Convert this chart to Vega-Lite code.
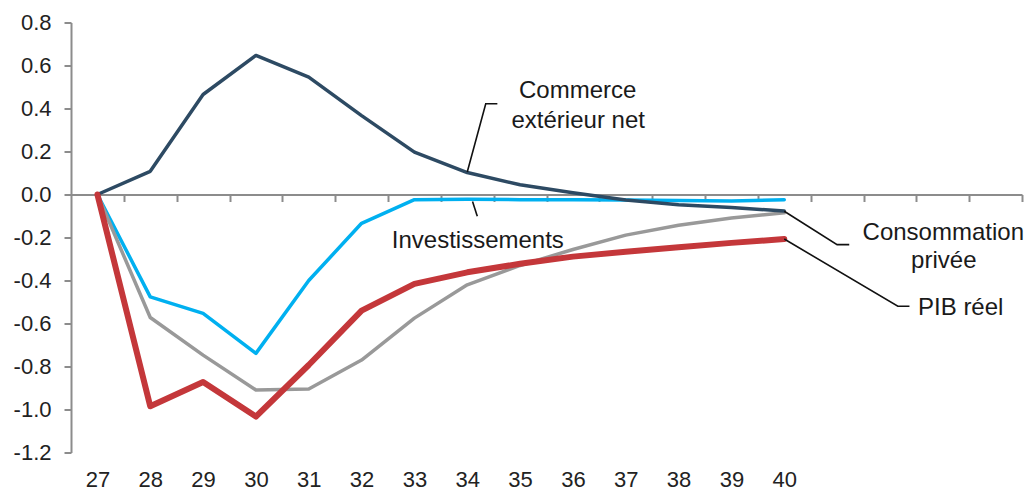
{
  "$schema": "https://vega.github.io/schema/vega-lite/v6.json",
  "width": 951,
  "height": 430,
  "autosize": "none",
  "padding": {"left": 71, "top": 22.5, "right": 10, "bottom": 41.5},
  "background": "white",
  "config": {"view": {"stroke": null}, "font": "Liberation Sans"},
  "datasets": {
    "series": [
      {"series": "Investissements", "x": 27, "y": 0},
      {"series": "Investissements", "x": 28, "y": -0.476},
      {"series": "Investissements", "x": 29, "y": -0.553},
      {"series": "Investissements", "x": 30, "y": -0.739},
      {"series": "Investissements", "x": 31, "y": -0.4},
      {"series": "Investissements", "x": 32, "y": -0.134},
      {"series": "Investissements", "x": 33, "y": -0.024},
      {"series": "Investissements", "x": 34, "y": -0.022},
      {"series": "Investissements", "x": 35, "y": -0.024},
      {"series": "Investissements", "x": 36, "y": -0.024},
      {"series": "Investissements", "x": 37, "y": -0.026},
      {"series": "Investissements", "x": 38, "y": -0.028},
      {"series": "Investissements", "x": 39, "y": -0.03},
      {"series": "Investissements", "x": 40, "y": -0.024},
      {"series": "Consommation privée", "x": 27, "y": 0},
      {"series": "Consommation privée", "x": 28, "y": -0.572},
      {"series": "Consommation privée", "x": 29, "y": -0.747},
      {"series": "Consommation privée", "x": 30, "y": -0.909},
      {"series": "Consommation privée", "x": 31, "y": -0.905},
      {"series": "Consommation privée", "x": 32, "y": -0.77},
      {"series": "Consommation privée", "x": 33, "y": -0.575},
      {"series": "Consommation privée", "x": 34, "y": -0.42},
      {"series": "Consommation privée", "x": 35, "y": -0.33},
      {"series": "Consommation privée", "x": 36, "y": -0.256},
      {"series": "Consommation privée", "x": 37, "y": -0.189},
      {"series": "Consommation privée", "x": 38, "y": -0.143},
      {"series": "Consommation privée", "x": 39, "y": -0.109},
      {"series": "Consommation privée", "x": 40, "y": -0.085},
      {"series": "PIB réel", "x": 27, "y": 0},
      {"series": "PIB réel", "x": 28, "y": -0.985},
      {"series": "PIB réel", "x": 29, "y": -0.872},
      {"series": "PIB réel", "x": 30, "y": -1.033},
      {"series": "PIB réel", "x": 31, "y": -0.793},
      {"series": "PIB réel", "x": 32, "y": -0.54},
      {"series": "PIB réel", "x": 33, "y": -0.416},
      {"series": "PIB réel", "x": 34, "y": -0.362},
      {"series": "PIB réel", "x": 35, "y": -0.322},
      {"series": "PIB réel", "x": 36, "y": -0.289},
      {"series": "PIB réel", "x": 37, "y": -0.266},
      {"series": "PIB réel", "x": 38, "y": -0.245},
      {"series": "PIB réel", "x": 39, "y": -0.225},
      {"series": "PIB réel", "x": 40, "y": -0.207},
      {"series": "Commerce extérieur net", "x": 27, "y": 0},
      {"series": "Commerce extérieur net", "x": 28, "y": 0.108},
      {"series": "Commerce extérieur net", "x": 29, "y": 0.465},
      {"series": "Commerce extérieur net", "x": 30, "y": 0.647},
      {"series": "Commerce extérieur net", "x": 31, "y": 0.546},
      {"series": "Commerce extérieur net", "x": 32, "y": 0.367},
      {"series": "Commerce extérieur net", "x": 33, "y": 0.197},
      {"series": "Commerce extérieur net", "x": 34, "y": 0.102},
      {"series": "Commerce extérieur net", "x": 35, "y": 0.045},
      {"series": "Commerce extérieur net", "x": 36, "y": 0.008},
      {"series": "Commerce extérieur net", "x": 37, "y": -0.026},
      {"series": "Commerce extérieur net", "x": 38, "y": -0.048},
      {"series": "Commerce extérieur net", "x": 39, "y": -0.06},
      {"series": "Commerce extérieur net", "x": 40, "y": -0.077}
    ],
    "leaders": [
      {"id": "c", "o": 1, "x": 34.0, "y": 0.105},
      {"id": "c", "o": 2, "x": 34.35, "y": 0.422},
      {"id": "c", "o": 3, "x": 34.57, "y": 0.422},
      {"id": "i", "o": 1, "x": 34.1, "y": -0.033},
      {"id": "i", "o": 2, "x": 34.19, "y": -0.101},
      {"id": "p", "o": 1, "x": 40.0, "y": -0.078},
      {"id": "p", "o": 2, "x": 41.0, "y": -0.233},
      {"id": "p", "o": 3, "x": 41.23, "y": -0.233},
      {"id": "g", "o": 1, "x": 40.0, "y": -0.207},
      {"id": "g", "o": 2, "x": 42.15, "y": -0.52},
      {"id": "g", "o": 3, "x": 42.37, "y": -0.52}
    ],
    "labels": [
      {"label": "Commerce", "x": 36.09, "y": 0.45},
      {"label": "extérieur net", "x": 36.1, "y": 0.308},
      {"label": "Investissements", "x": 34.2, "y": -0.249},
      {"label": "Consommation", "x": 43.01, "y": -0.212},
      {"label": "privée", "x": 43.02, "y": -0.343},
      {"label": "PIB réel", "x": 43.34, "y": -0.56}
    ]
  },
  "resolve": {"axis": {"x": "independent"}},
  "layer": [
    {
      "data": {"name": "series"},
      "transform": [{"filter": "datum.series !== 'PIB réel'"}],
      "mark": {"type": "line", "strokeJoin": "round", "strokeCap": "round", "strokeWidth": 3.5},
      "encoding": {
        "x": {
          "field": "x", "type": "quantitative",
          "scale": {"domain": [26.5, 44.5], "nice": false, "zero": false},
          "axis": {
            "values": [27, 28, 29, 30, 31, 32, 33, 34, 35, 36, 37, 38, 39, 40],
            "format": "d", "domain": false, "ticks": false, "grid": false,
            "labelFontSize": 22, "labelPadding": 17, "labelColor": "#222222",
            "labelFlush": false, "title": null
          }
        },
        "y": {
          "field": "y", "type": "quantitative",
          "scale": {"domain": [-1.2, 0.8], "nice": false, "zero": false},
          "axis": {
            "values": [-1.2, -1, -0.8, -0.6, -0.4, -0.2, 0, 0.2, 0.4, 0.6, 0.8],
            "labelExpr": "replace(format(datum.value, '.1f'), '\u2212', '-')",
            "domainColor": "#8c8c8c", "domainWidth": 2,
            "tickColor": "#8c8c8c", "tickWidth": 2, "tickSize": 7,
            "labelPadding": 13, "labelFontSize": 22, "labelColor": "#222222",
            "grid": false, "title": null
          }
        },
        "color": {
          "field": "series", "type": "nominal",
          "scale": {
            "domain": ["Investissements", "Consommation privée", "Commerce extérieur net"],
            "range": ["#00B0F0", "#999999", "#2D4A63"]
          },
          "legend": null
        }
      }
    },
    {
      "data": {"name": "series"},
      "transform": [{"filter": "datum.series === 'PIB réel'"}],
      "mark": {"type": "line", "strokeJoin": "round", "strokeCap": "round", "strokeWidth": 6, "color": "#C4373A"},
      "encoding": {
        "x": {"field": "x", "type": "quantitative", "axis": null},
        "y": {
          "field": "y", "type": "quantitative",
          "axis": {
            "values": [-1.2, -1, -0.8, -0.6, -0.4, -0.2, 0, 0.2, 0.4, 0.6, 0.8],
            "labelExpr": "replace(format(datum.value, '.1f'), '\u2212', '-')",
            "domainColor": "#8c8c8c", "domainWidth": 2,
            "tickColor": "#8c8c8c", "tickWidth": 2, "tickSize": 7,
            "labelPadding": 13, "labelFontSize": 22, "labelColor": "#222222",
            "grid": false, "title": null
          }
        }
      }
    },
    {
      "data": {"name": "leaders"},
      "mark": {"type": "line", "color": "#111111", "strokeWidth": 1.6},
      "encoding": {
        "x": {
          "field": "x", "type": "quantitative",
          "axis": {
            "orient": "bottom", "offset": -258,
            "values": [27.5, 28.5, 29.5, 30.5, 31.5, 32.5, 33.5, 34.5, 35.5, 36.5, 37.5, 38.5, 39.5, 40.5, 41.5, 42.5, 43.5, 44.5],
            "labels": false, "domain": true, "domainColor": "#8c8c8c", "domainWidth": 2,
            "tickColor": "#8c8c8c", "tickWidth": 2, "tickSize": 7, "grid": false, "title": null
          }
        },
        "y": {
          "field": "y", "type": "quantitative",
          "axis": {
            "values": [-1.2, -1, -0.8, -0.6, -0.4, -0.2, 0, 0.2, 0.4, 0.6, 0.8],
            "labelExpr": "replace(format(datum.value, '.1f'), '\u2212', '-')",
            "domainColor": "#8c8c8c", "domainWidth": 2,
            "tickColor": "#8c8c8c", "tickWidth": 2, "tickSize": 7,
            "labelPadding": 13, "labelFontSize": 22, "labelColor": "#222222",
            "grid": false, "title": null
          }
        },
        "detail": {"field": "id"},
        "order": {"field": "o", "type": "quantitative"}
      }
    },
    {
      "data": {"name": "labels"},
      "mark": {"type": "text", "align": "center", "baseline": "alphabetic", "fontSize": 24, "font": "Liberation Sans", "color": "#1a1a1a"},
      "encoding": {
        "x": {"field": "x", "type": "quantitative", "axis": null},
        "y": {
          "field": "y", "type": "quantitative",
          "axis": {
            "values": [-1.2, -1, -0.8, -0.6, -0.4, -0.2, 0, 0.2, 0.4, 0.6, 0.8],
            "labelExpr": "replace(format(datum.value, '.1f'), '\u2212', '-')",
            "domainColor": "#8c8c8c", "domainWidth": 2,
            "tickColor": "#8c8c8c", "tickWidth": 2, "tickSize": 7,
            "labelPadding": 13, "labelFontSize": 22, "labelColor": "#222222",
            "grid": false, "title": null
          }
        },
        "text": {"field": "label"}
      }
    }
  ]
}
